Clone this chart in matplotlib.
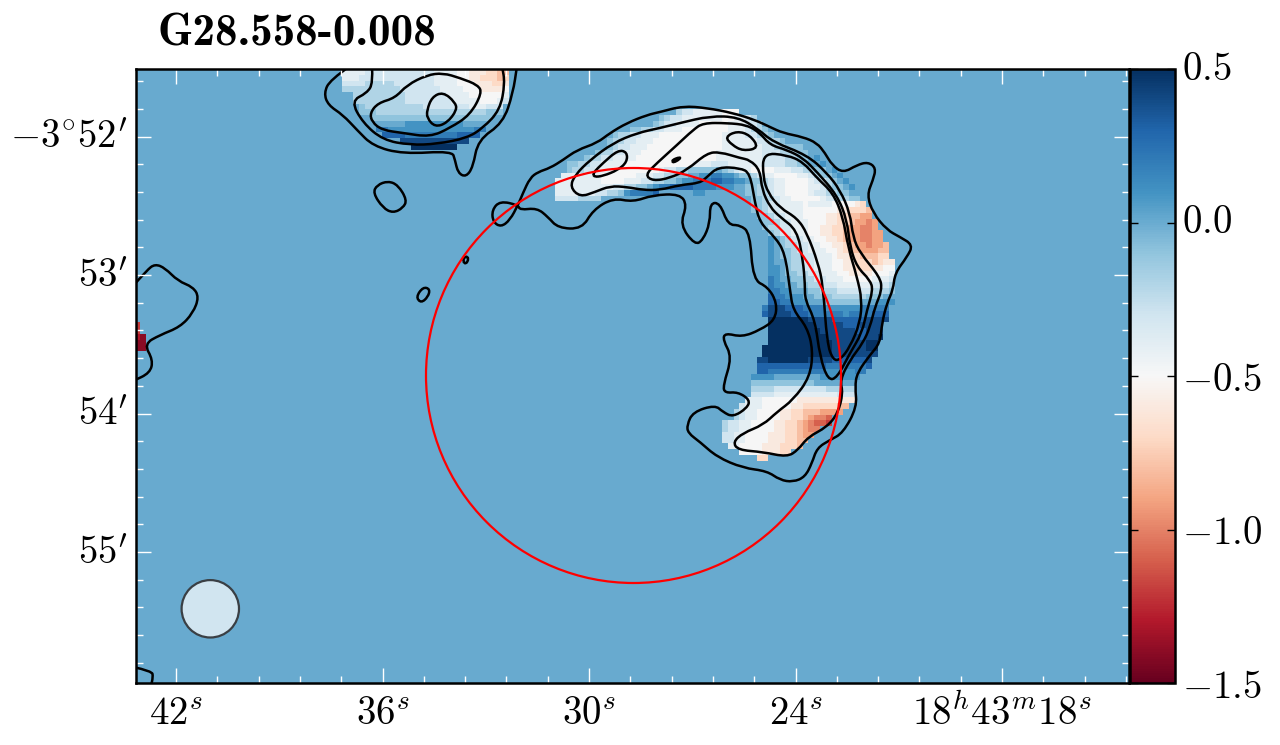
#!/usr/bin/env python3
"""Spectral index map of G28.558-0.008 with intensity contours."""

from pathlib import Path as FilePath

import matplotlib
matplotlib.use('Agg')
import matplotlib.pyplot as plt
import numpy as np
from matplotlib.patches import Circle, PathPatch
from matplotlib.path import Path
from matplotlib.transforms import ScaledTranslation

plt.rcParams['mathtext.fontset'] = 'cm'

TITLE = 'G28.558-0.008'
VMIN, VMAX = -1.5, 0.5
BACKGROUND = 0.0

# one letter per map cell, spectral index in steps of 0.1
LEVEL_CODES = 'ABCDEFGHIJKLMNOPQRST'
LEVEL_VALUES = [0.5, 0.4, 0.3, 0.2, 0.1, 0.0, -0.1, -0.2, -0.3, -0.4, -0.5,
                -0.6, -0.7, -0.8, -0.9, -1.0, -1.1, -1.2, -1.3, -1.4]

# map grid (axes use map units), rows count from the top
GRID_X0, GRID_Y0, CELL = 128.8, 69.0, 5.76
GRID_COLS, GRID_ROWS = 174, 107

# shell: (row, first column, codes)
SHELL_ROWS = [
    (7, 95, 'HIIJJJJJKKK'),
    (8, 92, 'GHIIJJJJJJJKKJJIH'),
    (9, 91, 'GHIIJJJJKKKKKJJJIIH'),
    (10, 87, 'GGHHIIJJJKKKKKKKKJJJIHHG'),
    (11, 84, 'GHHIIJJJKKKKKKKKKKKJJJJIIHHG'),
    (12, 83, 'GHHIIJJJKKKKKKKKKKKKJJJJJJIIHHG'),
    (13, 82, 'FGHIIJJJKKKKKKKKKKKKKJJJJJJJIIHHGGG'),
    (14, 80, 'FGHHIIJJJKKKKKKKKKKKKKJJJJJJJJIIIHHHGGF'),
    (15, 78, 'FGHHIIJJJJKKKKKKKKKKKKKKJJJJJJJJIIIIHHGGFE'),
    (16, 76, 'GGHHIIJJJJKKKKKKKKKKKKJJJIIIJJJJJJIIIIHHGGFFE'),
    (17, 76, 'GHHIIJJJKKKKKKKKJIIHHGGGGGFGHIJJKKKKJJJIIHHGGFE'),
    (18, 75, 'JJJJJJJKKKKKKJJJIIHHGGFFEEDDEEFGGHIJJKKKKJJIHGGFE'),
    (19, 74, 'JJJJJJJJKKKKJJJIIHHGGFEEDDDCCDDEEFGGHIJJKKKKJIIHGFE'),
    (20, 74, 'JJJJJJJJJJIIHHGGFEDDCCCCDDDDEEEFFGGHHIJJKKKKJJIHGGFE'),
    (21, 74, 'JJJJJJJIIHHGEDDDDC......EEFFFFFFFGGHHIJJKKKKJIIHHGGF'),
    (22, 74, 'IIIIHHHH.....................FFFFFGGHHIJJKKKKKJIIHHGG'),
    (23, 105, 'FFFGGHIIJJJJKJJJJKKKKLM'),
    (24, 106, 'FFGGHIIJJJJKKKKKKLLMMMN'),
    (25, 108, 'FGGHIIJJJKKKKLLMMNNOO'),
    (26, 109, 'FGGHIIJJJKKKLLMMNOOPO'),
    (27, 109, 'FGHHIIJJJKKLLMMNOOPPO'),
    (28, 110, 'FGHIIJJJKKLLMMNOOPPOO'),
    (29, 111, 'EFGHIIJJKKLLMNOOPPOO'),
    (30, 111, 'EFGHHIIJJKKLLMNOOPOON'),
    (31, 111, 'EFGGHIIJJJKKLMNNOOONN'),
    (32, 111, 'EFGGHHIIJJJKLLMMNNNMM'),
    (33, 111, 'EFFGHHIIJJJKKLLMMMNMLL'),
    (34, 111, 'EEFGHHIIJJJKKLLMMMLLKK'),
    (35, 111, 'EEFGGHHIIJJJKKLLLLKKKJ'),
    (36, 111, 'DEFFGGHHIIJJJKKKKKJJJI'),
    (37, 111, 'DEEFFGGHHIIIJJJJJJIIIH'),
    (38, 111, 'DDEEFFFGGHHHIIIIIIHHHG'),
    (39, 111, 'CDDEEEFFGGGHHHHHHGGGFF'),
    (40, 111, 'CCDDEEEFFFGGGGGGFFFEEE'),
    (41, 110, 'DBBBCCCDDDDEEEEEEDDDDD'),
    (42, 110, 'CBBBBCCCDDDDDDEDDDDCCC'),
    (43, 111, 'AAAAAAABBBBCCCCCCBBBB'),
    (44, 111, 'AAAAAAAABBBBBCCCBBBB'),
    (45, 111, 'AAAAAAAAABBBBBBCCBBB'),
    (46, 111, 'AAAAAAAAAABBBBBBCBBA'),
    (47, 111, 'AAAAAAAAAAABBBBBBAA'),
    (48, 110, 'AAAAAAAAAAAABBBBBBAA'),
    (49, 110, 'AAAAAAAAAAAABBBBBBBB'),
    (50, 109, 'BBAAAAAAABBBBCCCCCCB'),
    (51, 109, 'CCCCCCCCCCCCDDDDDDDC'),
    (52, 109, 'CCDDDDDDDDDDEEEEEDD'),
    (53, 108, 'EEEEFFFFFFFFEEEEEEE'),
    (54, 108, 'GGGGGGGGGGGFFFFFFFF'),
    (55, 108, 'HHHHIIIIIIIIIHHHHH'),
    (56, 108, 'IIIIJJJJJJJJJJJIII'),
    (57, 107, 'JJJKKKKKKLLLLLLLLLL'),
    (58, 106, 'IJJJKKKKKLLMMMMMMNN'),
    (59, 105, 'HIJJKKKKLLMMNNNOOOO'),
    (60, 105, 'HIJJKKKKLLMMNOPPQ'),
    (61, 103, 'HIIJJKKKKLLMMNOPQQR'),
    (62, 103, 'HIIJJKKKKLLMMNOPP'),
    (63, 103, 'IIJJKKKKLLLMMNOO'),
    (64, 103, 'IIJJKKKKLLLMMNN'),
    (65, 104, 'JJKKKKLLLMMMN'),
    (66, 106, 'KKKKLLLMMF'),
    (67, 109, 'MM'),
]

# blob at the top of the map
BLOB_ROWS = [
    (0, 37, 'JJJJIIIIIIIIIIIIJJJJKKLLLMMNN'),
    (1, 37, 'JJJIIIIIIIIIIIIIJJJJKKLLMMMNM'),
    (2, 37, 'IIIIHHHHHIIIIIIIJJJJKKKLLLMML'),
    (3, 37, 'HHHHHHHHHHIIIIIIIJJJJKKKLLLLK'),
    (4, 39, 'HHHHHHHHHIIIIIIIJJJJKKKKKKJ'),
    (5, 39, 'HHHHHHHHHIIIIIIIIJJJJJKKKJI'),
    (6, 40, 'GHHHHHHHHHHIIIIIIIIJJJIII'),
    (7, 40, 'GGGHHHHHHHHHHHHHHHHHHHGGG'),
    (8, 41, 'FGGGGGGGGGGGGGGGGGGGGGF'),
    (9, 42, 'FFFFFFEEEEEEEEEEFFFFF'),
    (10, 43, 'DDEEEEEEEEEEEEEEEDD'),
    (11, 44, 'CCCCDDDDDDDDDCCCC'),
    (12, 47, 'BBBBBBBBBBBB'),
    (13, 49, 'AAAAAAAA'),
]

# red cells on the left edge
EDGE_ROWS = [
    (44, 1, 'R'),
    (45, 1, 'R'),
    (46, 1, 'ST'),
    (47, 1, 'TT'),
    (48, 1, 'TT'),
]

# contours, closed ones first
CONTOUR_SHELL = [
    (518, 205), (500, 201), (492, 210), (493, 222), (501, 227), (510, 220), (518, 205),
    (523, 193), (530, 178), (538, 172), (550, 168), (563, 160), (577, 150), (597, 143),
    (610, 133), (627, 123), (647, 115), (660, 112), (683, 106), (707, 108), (733, 113),
    (755, 120), (770, 127), (783, 133), (803, 137), (817, 143), (825, 153), (832, 165),
    (843, 173), (857, 165), (868, 162), (876, 168), (873, 180), (867, 195), (873, 213),
    (887, 230), (900, 237), (913, 245), (907, 257), (895, 273), (893, 290), (887, 303),
    (882, 323), (880, 343), (870, 355), (857, 373), (855, 387), (857, 407), (843, 433),
    (830, 440), (817, 448), (812, 463), (805, 477), (793, 482), (780, 480), (767, 471),
    (743, 468), (717, 457), (700, 442), (688, 433), (687, 425), (693, 412), (715, 405),
    (723, 412), (733, 417), (747, 408), (750, 400), (738, 392), (725, 393), (723, 386),
    (732, 357), (723, 340), (725, 333), (742, 337), (760, 330), (775, 320), (777, 303),
    (768, 287), (753, 280), (750, 233), (740, 225), (728, 225), (720, 203), (710, 203),
    (710, 223), (703, 240), (695, 245), (680, 225), (687, 205), (680, 194), (653, 195),
    (633, 202), (613, 198), (593, 210), (582, 229), (558, 228), (548, 217), (537, 208),
    (520, 210),
]
CONTOUR_B = [
    (570, 187), (575, 175), (590, 160), (613, 143), (637, 133), (660, 128), (680, 123),
    (710, 116), (738, 117), (758, 129), (773, 142), (807, 155), (827, 173), (840, 190),
    (850, 213), (853, 237), (860, 253), (880, 277), (882, 290), (875, 307), (870, 327),
    (863, 343), (850, 360), (840, 380), (843, 393), (838, 413), (827, 427), (808, 437),
    (798, 450), (787, 457), (763, 452), (738, 450), (733, 442), (743, 433), (763, 425),
    (777, 412), (793, 400), (810, 377), (813, 350), (807, 327), (793, 310), (790, 290),
    (785, 253), (775, 237), (760, 223), (755, 203), (750, 173), (740, 168), (718, 167),
    (707, 177), (700, 183), (680, 185), (660, 190), (643, 190), (627, 187), (610, 186),
    (595, 192), (580, 197),
]
CONTOUR_C = [
    (645, 175), (657, 163), (677, 145), (693, 130), (703, 123), (727, 123), (747, 125),
    (760, 133), (770, 145), (787, 150), (803, 158), (817, 172), (837, 195), (847, 220),
    (850, 247), (857, 267), (870, 280), (873, 290), (867, 310), (862, 333), (850, 353),
    (837, 378), (828, 380), (820, 357), (815, 320), (805, 300), (805, 285), (803, 260),
    (797, 230), (780, 217), (770, 207), (762, 190), (760, 170), (750, 160), (740, 158),
    (720, 152), (707, 153), (687, 170), (670, 178), (653, 181),
]
CONTOUR_D = [
    (763, 153), (787, 155), (803, 162), (817, 178), (833, 193), (843, 217), (848, 247),
    (857, 277), (862, 300), (860, 323), (850, 347), (840, 360), (833, 360), (827, 343),
    (823, 285), (818, 263), (807, 233), (797, 218), (780, 208), (768, 193), (763, 177),
]
CONTOUR_OVAL_TOP = [(725, 137), (737, 131), (750, 135), (759, 148), (743, 151), (732, 145)]
CONTOUR_TINY_A = [(672, 160), (680, 157), (680, 159), (673, 163)]
CONTOUR_OVAL_LEFT = [(593, 173), (603, 163), (618, 150), (627, 152), (627, 162),
                     (618, 170), (603, 176), (594, 177)]
CONTOUR_SPECK = [(463, 258), (468, 256), (468, 262), (464, 264)]
CONTOUR_SMALL = [(416, 297), (423, 287), (430, 289), (428, 297), (421, 303)]
CONTOUR_ISLAND = [(373, 193), (377, 185), (388, 181), (398, 185), (407, 200), (403, 208),
                  (393, 213), (383, 208)]
CONTOUR_BLOB_3 = [
    (370, 113), (378, 103), (395, 98), (407, 85), (427, 75), (443, 73), (460, 78),
    (478, 85), (482, 93), (470, 115), (450, 128), (430, 137), (403, 133), (382, 130),
    (372, 122),
]
CONTOUR_BLOB_4 = [(427, 110), (432, 97), (443, 92), (455, 102), (457, 110), (447, 123),
                  (435, 127), (427, 118)]

# open ones run off the edge of the map
CONTOUR_BLOB_1 = [
    (350, 66), (330, 80), (324, 93), (328, 105), (343, 115), (357, 130), (373, 146),
    (403, 154), (452, 151), (455, 160), (458, 173), (466, 177), (473, 167), (478, 140),
    (503, 123), (513, 93), (517, 66),
]
CONTOUR_BLOB_2 = [
    (372, 66), (373, 83), (367, 93), (351, 101), (363, 123), (383, 140), (410, 145),
    (437, 144), (467, 138), (483, 128), (500, 110), (505, 83), (502, 66),
]
CONTOUR_EDGE = [
    (133, 286), (147, 270), (155, 264), (165, 268), (178, 281), (193, 287), (199, 297),
    (193, 313), (180, 327), (160, 335), (144, 344), (153, 360), (150, 373), (133, 381),
]
CONTOUR_CORNER = [(133, 667), (152, 671), (153, 677), (151, 686)]

CLOSED_CONTOURS = [CONTOUR_SHELL, CONTOUR_B, CONTOUR_C, CONTOUR_D, CONTOUR_OVAL_TOP,
                   CONTOUR_TINY_A, CONTOUR_OVAL_LEFT, CONTOUR_SPECK, CONTOUR_SMALL,
                   CONTOUR_ISLAND, CONTOUR_BLOB_3, CONTOUR_BLOB_4]
OPEN_CONTOURS = [CONTOUR_BLOB_1, CONTOUR_BLOB_2, CONTOUR_EDGE, CONTOUR_CORNER]

# aperture and beam
APERTURE_CENTER, APERTURE_RADIUS = (633.5, 375.5), 207.5
BEAM_CENTER, BEAM_RADIUS = (210.3, 608.8), 28.7
BEAM_VALUE = -0.3

# ticks, in map units
X_MAJOR = [176.0, 382.5, 589.0, 795.5, 1002.0]
X_MINOR = [217.3, 258.6, 299.9, 341.2, 423.8, 465.1, 506.4, 547.7, 630.3, 671.6, 712.9,
           754.2, 836.8, 878.1, 919.4, 960.7, 1043.3, 1084.6, 1125.9]
X_LABELS = ['$42^{s}$', '$36^{s}$', '$30^{s}$', '$24^{s}$', '$18^{h}43^{m}18^{s}$']
Y_MAJOR = [136.5, 275.0, 413.5, 552.0]
Y_MINOR = [81.1, 108.8, 164.2, 191.9, 219.6, 247.3, 302.7, 330.4, 358.1, 385.8, 441.2,
           468.9, 496.6, 524.3, 579.7, 607.4, 635.1, 662.8]
Y_LABELS = [r'$-3^{\circ}52^{\prime}$', r'$53^{\prime}$', r'$54^{\prime}$', r'$55^{\prime}$']
CBAR_TICKS = [0.5, 0.0, -0.5, -1.0, -1.5]
CBAR_LABELS = ['$0.5$', '$0.0$', '$-0.5$', '$-1.0$', '$-1.5$']


def build_grid():
    lookup = dict(zip(LEVEL_CODES, LEVEL_VALUES))
    grid = np.full((GRID_ROWS, GRID_COLS), BACKGROUND)
    for row, start, codes in SHELL_ROWS + BLOB_ROWS + EDGE_ROWS:
        for i, code in enumerate(codes):
            if code != '.':
                grid[row, start + i] = lookup[code]
    return grid


def smooth_path(points, closed):
    pts = np.array(points, dtype=float)
    verts, codes = [], []
    if closed:
        verts.append((pts[-1] + pts[0]) / 2)
        codes.append(Path.MOVETO)
        for i in range(len(pts)):
            verts += [pts[i], (pts[i] + pts[(i + 1) % len(pts)]) / 2]
            codes += [Path.CURVE3, Path.CURVE3]
    else:
        verts.append(pts[0])
        codes.append(Path.MOVETO)
        for i in range(1, len(pts) - 1):
            verts += [pts[i], (pts[i] + pts[i + 1]) / 2]
            codes += [Path.CURVE3, Path.CURVE3]
        verts.append(pts[-1])
        codes.append(Path.LINETO)
    return Path(verts, codes)


def nudge_up(labels, fig, points):
    for label in labels:
        label.set_transform(label.get_transform()
                            + ScaledTranslation(0, points / 72, fig.dpi_scale_trans))


def main():
    fig = plt.figure(figsize=(12.8, 7.45), dpi=100)
    ax = fig.add_axes([136 / 1280, 1 - 683 / 745, 993 / 1280, 614 / 745])
    cax = fig.add_axes([1130 / 1280, 1 - 683 / 745, 45 / 1280, 614 / 745])

    extent = [GRID_X0, GRID_X0 + GRID_COLS * CELL, GRID_Y0 + GRID_ROWS * CELL, GRID_Y0]
    im = ax.imshow(build_grid(), cmap='RdBu', vmin=VMIN, vmax=VMAX, extent=extent,
                   interpolation='nearest', aspect='auto')
    ax.set_xlim(136, 1129)
    ax.set_ylim(683, 69)

    for contour in CLOSED_CONTOURS:
        ax.add_patch(PathPatch(smooth_path(contour, True), fill=False, ec='black', lw=1.8))
    for contour in OPEN_CONTOURS:
        ax.add_patch(PathPatch(smooth_path(contour, False), fill=False, ec='black', lw=1.8))

    ax.add_patch(Circle(APERTURE_CENTER, APERTURE_RADIUS, fill=False, ec='red', lw=1.6))
    ax.add_patch(Circle(BEAM_CENTER, BEAM_RADIUS, fc=im.cmap(im.norm(BEAM_VALUE)),
                        ec='#3a3f44', lw=1.6))

    ax.set_xticks(X_MAJOR, X_LABELS)
    ax.set_xticks(X_MINOR, minor=True)
    ax.set_yticks(Y_MAJOR, Y_LABELS)
    ax.set_yticks(Y_MINOR, minor=True)
    ax.tick_params(which='both', direction='in', color='white', top=True, right=True,
                   labelsize=28)
    ax.tick_params(which='major', length=11, width=1)
    ax.tick_params(which='minor', length=5, width=1)
    ax.tick_params(axis='x', which='major', pad=8)
    ax.tick_params(axis='y', which='major', pad=6)
    for spine in ax.spines.values():
        spine.set_linewidth(1.8)
    nudge_up(ax.get_yticklabels(), fig, 2.5)

    cbar = fig.colorbar(im, cax=cax)
    cbar.set_ticks(CBAR_TICKS, labels=CBAR_LABELS)
    cbar.minorticks_off()
    cax.tick_params(direction='in', length=6, width=1, color='black', left=True, right=True,
                    labelsize=28, pad=5)
    cbar.outline.set_linewidth(1.8)
    nudge_up(cax.get_yticklabels()[:2], fig, 3.0)

    fig.text(157 / 1280, 1 - 46 / 745, TITLE, fontfamily='cmb10', fontsize=32.5, color='black')

    fig.savefig(FilePath('out.png'), dpi=100)


if __name__ == '__main__':
    main()
